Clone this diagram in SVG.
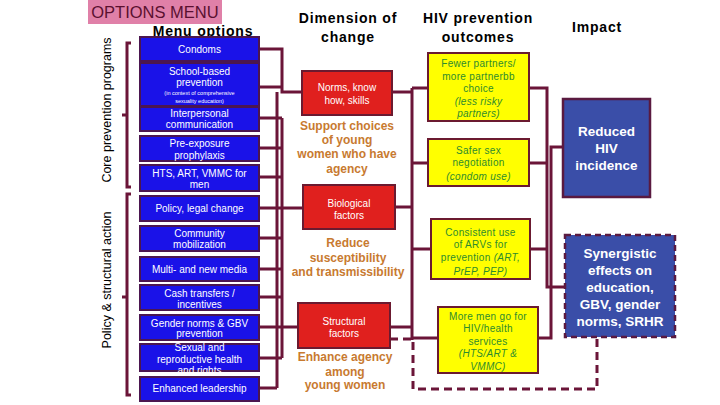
<svg xmlns="http://www.w3.org/2000/svg" width="720" height="405" viewBox="0 0 720 405">
<style>
.bb{fill:#1a12e8;stroke:#4b1650;stroke-width:2}
.rb{fill:#e0201e;stroke:#6b1a30;stroke-width:2}
.yb{fill:#ffff00;stroke:#6b1a30;stroke-width:2}
.ib{fill:#3a4ea8;stroke:#5a1a40;stroke-width:2.5}
.wt{font-family:"Liberation Sans",Arial,sans-serif;font-size:10px;fill:#fff;text-anchor:middle}
.st{font-family:"Liberation Sans",Arial,sans-serif;font-size:5.5px;fill:#fff;text-anchor:middle}
.gt{font-family:"Liberation Sans",Arial,sans-serif;font-size:10px;fill:#2e8b2e;text-anchor:middle;letter-spacing:0.3px}
.ot{font-family:"Liberation Sans",Arial,sans-serif;font-size:12px;font-weight:bold;fill:#c87a30;text-anchor:middle}
.ht{font-family:"Liberation Sans",Arial,sans-serif;font-size:14px;font-weight:bold;fill:#000;text-anchor:middle;letter-spacing:0.8px}
.it{font-family:"Liberation Sans",Arial,sans-serif;font-size:13.5px;font-weight:bold;fill:#fff;text-anchor:middle}
.vt{font-family:"Liberation Sans",Arial,sans-serif;font-size:12.5px;fill:#000;text-anchor:middle}
.cn{fill:none;stroke:#6b1538;stroke-width:3}
.dn{fill:none;stroke:#6b1538;stroke-width:3;stroke-dasharray:8,5}
</style>
<rect width="720" height="405" fill="#fff"/>
<g id="header">
<rect x="88" y="0" width="134" height="24" fill="#e080a8"/>
<text x="155" y="18" text-anchor="middle" font-family="Liberation Sans,Arial,sans-serif" font-size="16.5" fill="#5a1030">OPTIONS MENU</text>
<text x="203" y="36" class="ht" font-size="16" letter-spacing="0.5">Menu options</text>
<text x="348" y="23" class="ht">Dimension of</text>
<text x="348" y="42" class="ht">change</text>
<text x="478" y="23" class="ht">HIV prevention</text>
<text x="478" y="42" class="ht">outcomes</text>
<text x="597" y="32" class="ht">Impact</text>
</g>
<g id="side-labels">
<text class="vt" transform="translate(111,110) rotate(-90)">Core prevention programs</text>
<text class="vt" transform="translate(111,280) rotate(-90)">Policy &amp; structural action</text>
<path class="cn" stroke-width="2.5" d="M131 43 H127 V187 H131 M127 115 H122"/>
<path class="cn" stroke-width="2.5" d="M131 194 H127 V395 H131 M127 297 H122"/>
</g>
<g id="connectors">
<path class="cn" d="M259 49 H282 V92 H302"/>
<path class="cn" d="M259 87 H282"/>
<path class="cn" d="M277 92 V388"/>
<path class="cn" stroke-width="5" d="M282 118 V358"/>
<path class="cn" d="M259 118 H282 M259 148 H282 M259 177 H282 M259 208 H303 M259 238 H282 M259 269 H282 M259 297 H282 M259 327 H298 M259 358 H282 M259 388 H277"/>
<path class="cn" d="M392 92 H412"/>
<path class="cn" stroke-width="4" d="M412 88 V340"/>
<path class="cn" d="M395 207 H412 M390 327 H412"/>
<path class="cn" d="M412 88 H428 M412 163 H428 M412 249 H431 M412 338 H438"/>
<path class="dn" d="M390 339 H413 V389 H597 V337"/>
<path class="cn" d="M529 88 H547 V287 H565"/>
<path class="cn" d="M529 163 H547 M530 249 H547"/>
<path class="cn" d="M538 338 H551 V147 H563"/>
</g>
<g id="condoms"><rect class="bb" x="140" y="37" width="119" height="24"/><text class="wt" x="199.5" y="53">Condoms</text></g>
<g id="school"><rect class="bb" x="140" y="63" width="119" height="43"/><text class="wt" x="199.5" y="74.5">School-based</text><text class="wt" x="199.5" y="85.5">prevention</text><text class="st" x="199.5" y="95">(in context of comprehensive</text><text class="st" x="199.5" y="103">sexuality education)</text></g>
<g id="interpersonal"><rect class="bb" x="140" y="107" width="119" height="24"/><text class="wt" x="199.5" y="116.5">Interpersonal</text><text class="wt" x="199.5" y="127.5">communication</text></g>
<g id="prep"><rect class="bb" x="140" y="136" width="119" height="25"/><text class="wt" x="199.5" y="146.5">Pre-exposure</text><text class="wt" x="199.5" y="158.5">prophylaxis</text></g>
<g id="hts"><rect class="bb" x="140" y="165" width="119" height="26"/><text class="wt" x="199.5" y="176.5">HTS, ART, VMMC for</text><text class="wt" x="199.5" y="187.5">men</text></g>
<g id="policy"><rect class="bb" x="140" y="196" width="119" height="25"/><text class="wt" x="199.5" y="211.5">Policy, legal change</text></g>
<g id="community"><rect class="bb" x="140" y="226" width="119" height="25"/><text class="wt" x="199.5" y="236.5">Community</text><text class="wt" x="199.5" y="247.5">mobilization</text></g>
<g id="media"><rect class="bb" x="140" y="257" width="119" height="24"/><text class="wt" x="199.5" y="272.5">Multi- and new media</text></g>
<g id="cash"><rect class="bb" x="140" y="285" width="119" height="25"/><text class="wt" x="199.5" y="296.5">Cash transfers /</text><text class="wt" x="199.5" y="307.5">incentives</text></g>
<g id="gender"><rect class="bb" x="140" y="315" width="119" height="25"/><text class="wt" x="199.5" y="326.5">Gender norms &amp; GBV</text><text class="wt" x="199.5" y="336.5">prevention</text></g>
<g id="srhr"><rect class="bb" x="140" y="344" width="119" height="27"/><text class="wt" x="199.5" y="350.5">Sexual and</text><text class="wt" x="199.5" y="362.5">reproductive health</text><text class="wt" x="199.5" y="374">and rights</text></g>
<g id="leadership"><rect class="bb" x="140" y="377" width="119" height="24"/><text class="wt" x="199.5" y="391.5">Enhanced leadership</text></g>
<g id="norms"><rect class="rb" x="302" y="71" width="90" height="44"/><text class="wt" x="347" y="90.5">Norms, know</text><text class="wt" x="347" y="103.5">how, skills</text></g>
<text class="ot" x="347" y="130">Support choices</text>
<text class="ot" x="347" y="144">of young</text>
<text class="ot" x="347" y="158">women who have</text>
<text class="ot" x="347" y="173">agency</text>
<g id="biological"><rect class="rb" x="303" y="185" width="92" height="44"/><text class="wt" x="349" y="206.5">Biological</text><text class="wt" x="349" y="218.5">factors</text></g>
<text class="ot" x="348" y="247">Reduce</text>
<text class="ot" x="348" y="262">susceptibility</text>
<text class="ot" x="348" y="276">and transmissibility</text>
<g id="structural"><rect class="rb" x="298" y="303" width="92" height="45"/><text class="wt" x="344" y="324.5">Structural</text><text class="wt" x="344" y="336.5">factors</text></g>
<text class="ot" x="345" y="361">Enhance agency</text>
<text class="ot" x="345" y="376">among</text>
<text class="ot" x="345" y="389">young women</text>
<g id="fewer"><rect class="yb" x="428" y="53" width="101" height="68"/><text class="gt" x="478.5" y="66.5">Fewer partners/</text><text class="gt" x="478.5" y="79.5">more partnerbb</text><text class="gt" x="478.5" y="91.5">choice</text><text class="gt" x="478.5" y="104.5" font-style="italic">(less risky</text><text class="gt" x="478.5" y="116.5" font-style="italic">partners)</text></g>
<g id="safer"><rect class="yb" x="428" y="139" width="101" height="47"/><text class="gt" x="478.5" y="153.5">Safer sex</text><text class="gt" x="478.5" y="165.5">negotiation</text><text class="gt" x="478.5" y="179.5" font-style="italic">(condom use)</text></g>
<g id="arv"><rect class="yb" x="431" y="219" width="99" height="60"/><text class="gt" x="480.5" y="235.5">Consistent use</text><text class="gt" x="480.5" y="247.5">of ARVs for</text><text class="gt" x="480.5" y="260.5">prevention <tspan font-style="italic">(ART,</tspan></text><text class="gt" x="480.5" y="274.5" font-style="italic">PrEP, PEP)</text></g>
<g id="men"><rect class="yb" x="438" y="307" width="100" height="66"/><text class="gt" x="488" y="319.5">More men go for</text><text class="gt" x="488" y="331.5">HIV/health</text><text class="gt" x="488" y="344.5">services</text><text class="gt" x="488" y="356.5" font-style="italic">(HTS/ART &amp;</text><text class="gt" x="488" y="369.5" font-style="italic">VMMC)</text></g>
<g id="reduced"><rect class="ib" x="563" y="99" width="87" height="98"/><text class="it" x="606.5" y="136">Reduced</text><text class="it" x="606.5" y="153">HIV</text><text class="it" x="606.5" y="170">incidence</text></g>
<g id="synergistic"><rect class="ib" x="565" y="235" width="110" height="102" stroke-dasharray="6,4"/><text class="it" x="620" y="258">Synergistic</text><text class="it" x="620" y="275">effects on</text><text class="it" x="620" y="292">education,</text><text class="it" x="620" y="309">GBV,  gender</text><text class="it" x="620" y="326">norms, SRHR</text></g>
</svg>
